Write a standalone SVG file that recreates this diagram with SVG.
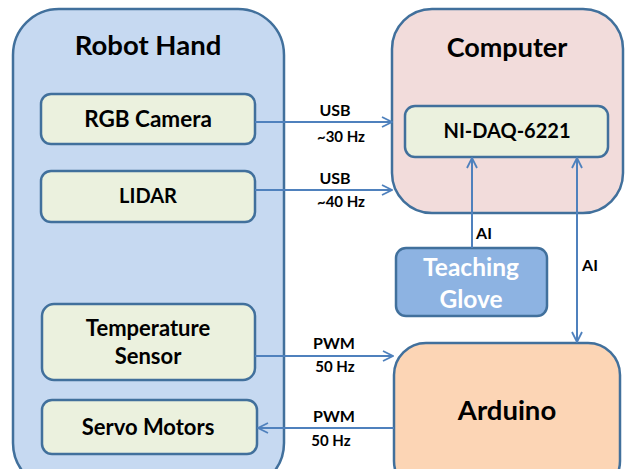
<svg xmlns="http://www.w3.org/2000/svg" width="626" height="469" viewBox="0 0 626 469">
<defs>
<marker id="ah" viewBox="0 0 12 12" refX="11" refY="6" markerWidth="12" markerHeight="12" markerUnits="userSpaceOnUse" orient="auto-start-reverse">
<path d="M1,1 L11,6 L1,11" fill="none" stroke="#4F81BD" stroke-width="1.8"/>
</marker>
</defs>
<style>
.big{stroke:#41709C;stroke-width:2.5}
.box{fill:#EBF1DE;stroke:#41709C;stroke-width:2.5}
.t{font-family:Lato,"Liberation Sans",sans-serif;font-weight:bold;fill:#000;text-anchor:middle}
.title{font-size:27.5px}
.lbl{font-size:22px}
.sm{font-size:16px}
.hz{font-size:15px}
.c{fill:none;stroke:#4F81BD;stroke-width:2}
</style>
<rect width="626" height="469" fill="#fff"/>
<g id="robot-hand">
<rect class="big" x="13" y="9" width="271" height="480" rx="46" fill="#C6D9F1"/>
<text class="t title" x="148" y="55">Robot Hand</text>
</g>
<g id="rgb-camera"><rect class="box" x="41" y="94" width="214" height="50" rx="10"/><text class="t lbl" x="148" y="127" style="font-size:22.5px">RGB Camera</text></g>
<g id="lidar"><rect class="box" x="41" y="171" width="214" height="51" rx="10"/><text class="t lbl" x="148" y="203" style="font-size:20px">LIDAR</text></g>
<g id="temperature-sensor"><rect class="box" x="42" y="304" width="213" height="76" rx="12"/><text class="t lbl" x="148" y="336">Temperature</text><text class="t lbl" x="148" y="364">Sensor</text></g>
<g id="servo-motors"><rect class="box" x="42" y="400" width="215" height="54" rx="10"/><text class="t lbl" x="148" y="435">Servo Motors</text></g>
<g id="computer">
<rect class="big" x="392" y="9" width="231" height="204" rx="40" fill="#F2DCDB"/>
<text class="t title" x="507" y="57" style="font-size:27px">Computer</text>
</g>
<g id="ni-daq"><rect class="box" x="405" y="106" width="203" height="51" rx="10"/><text class="t lbl" x="507" y="138" style="font-size:20px">NI-DAQ-6221</text></g>
<g id="teaching-glove"><rect x="396" y="248" width="151" height="68" rx="10" fill="#8DB3E2" stroke="#41709C" stroke-width="2.5"/><text class="t lbl" x="471" y="276" style="fill:#fff;font-size:24.5px">Teaching</text><text class="t lbl" x="471" y="308" style="fill:#fff;font-size:24.5px">Glove</text></g>
<g id="arduino"><rect class="big" x="394" y="343" width="226" height="150" rx="32" fill="#FCD5B5"/><text class="t title" x="507" y="420">Arduino</text></g>
<g id="connectors">
<line class="c" x1="255" y1="122" x2="392" y2="122" marker-end="url(#ah)"/>
<line class="c" x1="255" y1="190" x2="392" y2="190" marker-end="url(#ah)"/>
<line class="c" x1="472" y1="248" x2="472" y2="158" marker-end="url(#ah)"/>
<line class="c" x1="577" y1="158" x2="577" y2="342" marker-start="url(#ah)" marker-end="url(#ah)"/>
<line class="c" x1="255" y1="356" x2="393" y2="356" marker-end="url(#ah)"/>
<line class="c" x1="394" y1="428" x2="258" y2="428" marker-end="url(#ah)"/>
<text class="t sm" x="335" y="116">USB</text>
<text class="t hz" x="341" y="142">~30 Hz</text>
<text class="t sm" x="335" y="184">USB</text>
<text class="t hz" x="341" y="207">~40 Hz</text>
<text class="t sm" x="484" y="239">AI</text>
<text class="t sm" x="590" y="271">AI</text>
<text class="t sm" x="334" y="349">PWM</text>
<text class="t hz" x="335" y="372">50 Hz</text>
<text class="t sm" x="334" y="422">PWM</text>
<text class="t hz" x="331" y="446">50 Hz</text>
</g>
</svg>
